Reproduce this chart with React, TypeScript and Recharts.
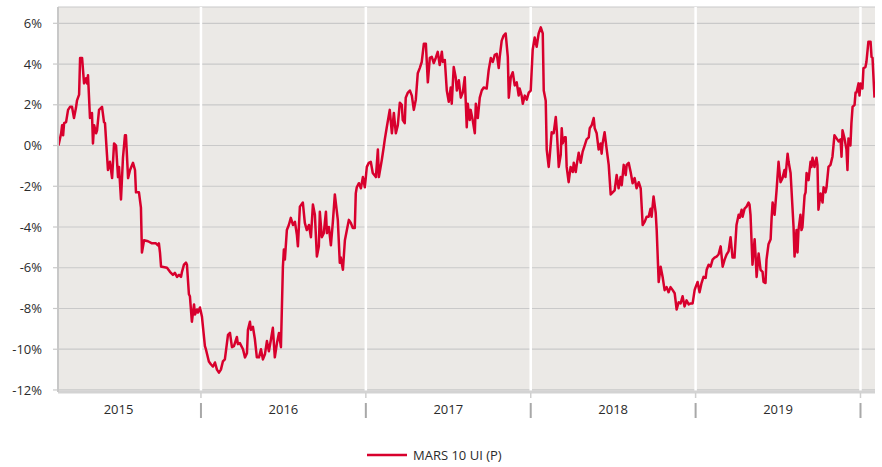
import React from 'react';
import { LineChart, Line, XAxis, YAxis, CartesianGrid, ReferenceLine, Legend } from 'recharts';

const SERIES_NAME = 'MARS 10 UI (P)';
const RED = '#d8002d';

const dates2015 = [
  2015.136, 2015.152, 2015.158, 2015.164, 2015.170, 2015.182, 2015.194, 2015.206, 2015.218, 2015.230,
  2015.242, 2015.248, 2015.261, 2015.267, 2015.279, 2015.291, 2015.303, 2015.309, 2015.315, 2015.327,
  2015.339, 2015.345, 2015.352, 2015.364, 2015.370, 2015.382, 2015.400, 2015.412, 2015.418, 2015.430,
  2015.436, 2015.448, 2015.461, 2015.473, 2015.485, 2015.497, 2015.503, 2015.515, 2015.527, 2015.539,
  2015.545, 2015.558, 2015.570, 2015.588, 2015.600, 2015.606, 2015.624, 2015.636, 2015.642, 2015.655,
  2015.679, 2015.703, 2015.727, 2015.739, 2015.745, 2015.752, 2015.758, 2015.764, 2015.794, 2015.812,
  2015.830, 2015.842, 2015.855, 2015.867, 2015.879, 2015.885, 2015.897, 2015.909, 2015.915, 2015.927,
  2015.933, 2015.945, 2015.958, 2015.964, 2015.976, 2015.982, 2015.994,
];
const values2015 = [
  0.0, 0.6, 1.0, 0.5, 1.1, 1.15, 1.75, 1.9, 1.9, 1.35,
  1.85, 2.2, 2.5, 4.3, 4.3, 3.05, 3.3, 3.05, 3.45, 1.35,
  1.6, 0.1, 1.0, 0.6, 0.75, 1.75, 1.9, 1.15, 1.1, -0.45,
  -1.2, -0.8, -1.6, 0.1, 0.0, -1.55, -1.05, -2.65, -0.6, 0.5,
  0.5, -1.6, -1.2, -0.85, -1.2, -2.3, -2.3, -3.05, -5.25, -4.65,
  -4.7, -4.8, -4.8, -4.9, -4.8, -5.3, -5.95, -5.95, -6.0, -6.2,
  -6.35, -6.25, -6.45, -6.35, -6.45, -6.2, -5.85, -5.75, -5.85, -7.3,
  -7.4, -8.65, -7.8, -8.3, -8.05, -8.2, -7.95,
];

const dates2016 = [
  2016.006, 2016.024, 2016.030, 2016.048, 2016.061, 2016.073, 2016.085, 2016.097, 2016.109, 2016.121,
  2016.133, 2016.145, 2016.164, 2016.176, 2016.188, 2016.200, 2016.218, 2016.224, 2016.236, 2016.255,
  2016.267, 2016.279, 2016.285, 2016.297, 2016.303, 2016.315, 2016.327, 2016.339, 2016.352, 2016.364,
  2016.376, 2016.388, 2016.400, 2016.412, 2016.424, 2016.436, 2016.448, 2016.461, 2016.473, 2016.485,
  2016.497, 2016.503, 2016.509, 2016.521, 2016.533, 2016.545, 2016.558, 2016.570, 2016.582, 2016.588,
  2016.600, 2016.618, 2016.630, 2016.642, 2016.655, 2016.667, 2016.679, 2016.691, 2016.703, 2016.715,
  2016.721, 2016.733, 2016.745, 2016.758, 2016.764, 2016.776, 2016.788, 2016.800, 2016.812, 2016.830,
  2016.842, 2016.848, 2016.861, 2016.873, 2016.885, 2016.897, 2016.909, 2016.921, 2016.933, 2016.939,
  2016.945, 2016.958, 2016.970, 2016.982, 2016.994,
];
const values2016 = [
  -8.4, -9.85, -10.0, -10.6, -10.75, -10.85, -10.65, -11.0, -11.15, -11.0,
  -10.6, -10.5, -9.3, -9.2, -9.9, -9.85, -9.4, -9.75, -9.7, -10.0,
  -10.4, -10.2, -9.05, -8.65, -9.05, -8.9, -9.5, -10.4, -10.4, -10.0,
  -10.5, -10.25, -9.6, -10.1, -9.55, -8.95, -10.4, -9.7, -9.2, -9.9,
  -5.95, -5.1, -5.6, -4.15, -3.9, -3.55, -3.9, -3.75, -4.4, -4.95,
  -3.0, -2.8, -3.8, -4.15, -3.9, -4.5, -2.9, -3.4, -5.45, -4.95,
  -3.25, -4.5, -4.3, -3.25, -4.3, -4.0, -4.9, -3.75, -2.4, -3.65,
  -5.75, -5.5, -6.1, -4.65, -4.15, -3.65, -3.8, -4.05, -4.05, -2.35,
  -2.05, -1.85, -2.1, -1.55, -2.05,
];

const dates2017 = [
  2017.006, 2017.018, 2017.030, 2017.042, 2017.061, 2017.073, 2017.079, 2017.097, 2017.109, 2017.115,
  2017.127, 2017.145, 2017.158, 2017.170, 2017.182, 2017.194, 2017.206, 2017.218, 2017.224, 2017.236,
  2017.242, 2017.255, 2017.267, 2017.279, 2017.291, 2017.303, 2017.315, 2017.327, 2017.339, 2017.352,
  2017.364, 2017.376, 2017.388, 2017.400, 2017.412, 2017.424, 2017.436, 2017.448, 2017.461, 2017.467,
  2017.479, 2017.491, 2017.503, 2017.515, 2017.521, 2017.533, 2017.545, 2017.552, 2017.564, 2017.576,
  2017.588, 2017.600, 2017.612, 2017.618, 2017.630, 2017.636, 2017.648, 2017.661, 2017.667, 2017.679,
  2017.691, 2017.703, 2017.715, 2017.733, 2017.745, 2017.758, 2017.770, 2017.782, 2017.794, 2017.806,
  2017.812, 2017.824, 2017.836, 2017.848, 2017.861, 2017.867, 2017.879, 2017.891, 2017.903, 2017.915,
  2017.927, 2017.933, 2017.945, 2017.952, 2017.964, 2017.976, 2017.988,
];
const values2017 = [
  -1.05, -0.85, -0.8, -1.35, -1.55, -0.2, -1.55, -0.7, -0.05, 0.3,
  0.9, 1.75, 0.6, 1.6, 0.6, 1.0, 2.1, 2.0, 1.25, 1.1,
  2.35, 2.6, 2.7, 2.45, 1.75, 2.25, 3.55, 3.8, 4.1, 5.0,
  5.0, 3.1, 4.3, 4.35, 4.05, 4.3, 4.6, 3.95, 4.6, 4.1,
  4.2, 2.7, 2.15, 2.85, 2.05, 3.85, 3.35, 2.7, 3.2, 2.35,
  2.6, 3.35, 0.9, 2.05, 1.25, 1.75, 1.25, 0.6, 2.05, 1.35,
  2.35, 2.7, 2.85, 2.8, 3.7, 4.3, 4.1, 4.45, 4.5, 3.8,
  4.35, 5.15, 5.4, 5.5, 4.35, 2.35, 3.35, 3.6, 2.95, 3.1,
  2.45, 2.8, 2.45, 2.05, 2.45, 2.25, 2.6,
];

const dates2018 = [
  2018.000, 2018.012, 2018.024, 2018.036, 2018.048, 2018.061, 2018.073, 2018.079, 2018.091, 2018.097,
  2018.109, 2018.115, 2018.127, 2018.139, 2018.152, 2018.158, 2018.170, 2018.182, 2018.188, 2018.194,
  2018.206, 2018.212, 2018.218, 2018.230, 2018.242, 2018.255, 2018.261, 2018.273, 2018.279, 2018.291,
  2018.303, 2018.315, 2018.327, 2018.339, 2018.352, 2018.358, 2018.370, 2018.382, 2018.388, 2018.400,
  2018.412, 2018.424, 2018.430, 2018.436, 2018.448, 2018.461, 2018.473, 2018.485, 2018.497, 2018.509,
  2018.521, 2018.533, 2018.545, 2018.552, 2018.564, 2018.576, 2018.582, 2018.594, 2018.606, 2018.618,
  2018.630, 2018.642, 2018.655, 2018.667, 2018.679, 2018.691, 2018.703, 2018.715, 2018.727, 2018.733,
  2018.745, 2018.758, 2018.764, 2018.776, 2018.788, 2018.800, 2018.812, 2018.824, 2018.836, 2018.848,
  2018.861, 2018.873, 2018.885, 2018.897, 2018.909, 2018.921, 2018.933, 2018.945, 2018.958, 2018.970,
  2018.982, 2018.994,
];
const values2018 = [
  2.7, 4.7, 5.3, 4.85, 5.5, 5.8, 5.5, 2.7, 2.2, -0.2,
  -1.05, -0.55, 0.65, 0.6, 1.4, 0.75, -1.05, -0.45, 0.85, 0.1,
  0.4, 0.4, -1.05, -1.8, -1.05, -1.3, -0.85, -1.3, -0.95, -0.35,
  -0.85, -0.3, 0.0, 0.3, 0.4, 0.85, 1.0, 1.35, 0.85, 0.6,
  -0.2, 0.1, -0.4, 0.1, 0.65, -0.2, -0.95, -2.4, -2.3, -2.2,
  -1.45, -2.1, -1.55, -1.95, -0.95, -1.45, -0.95, -0.85, -1.3, -1.85,
  -1.6, -2.1, -1.8, -2.1, -3.9, -3.75, -3.5, -3.5, -3.1, -3.5,
  -2.5, -3.3, -4.15, -6.7, -5.95, -6.45, -7.1, -6.95, -7.2, -6.95,
  -7.1, -7.25, -8.05, -7.7, -7.75, -7.4, -7.9, -7.6, -7.8, -7.75,
  -7.75, -7.1,
];

const dates2019 = [
  2019.000, 2019.012, 2019.024, 2019.036, 2019.048, 2019.061, 2019.067, 2019.079, 2019.091, 2019.103,
  2019.115, 2019.127, 2019.139, 2019.152, 2019.164, 2019.176, 2019.188, 2019.200, 2019.212, 2019.224,
  2019.236, 2019.248, 2019.261, 2019.267, 2019.279, 2019.285, 2019.297, 2019.309, 2019.321, 2019.327,
  2019.333, 2019.345, 2019.358, 2019.364, 2019.370, 2019.382, 2019.394, 2019.406, 2019.412, 2019.424,
  2019.430, 2019.442, 2019.455, 2019.461, 2019.467, 2019.479, 2019.491, 2019.503, 2019.515, 2019.527,
  2019.539, 2019.545, 2019.558, 2019.564, 2019.576, 2019.594, 2019.600, 2019.612, 2019.618, 2019.624,
  2019.636, 2019.642, 2019.648, 2019.661, 2019.667, 2019.673, 2019.685, 2019.697, 2019.703, 2019.709,
  2019.721, 2019.733, 2019.739, 2019.745, 2019.758, 2019.770, 2019.776, 2019.788, 2019.794, 2019.806,
  2019.818, 2019.830, 2019.842, 2019.855, 2019.867, 2019.879, 2019.885, 2019.891, 2019.903, 2019.915,
  2019.921, 2019.927, 2019.939, 2019.945, 2019.952, 2019.964, 2019.970, 2019.976, 2019.988, 2019.994,
];
const values2019 = [
  -6.95, -6.7, -7.2, -6.75, -6.45, -6.5, -6.1, -5.85, -5.95, -5.6,
  -5.5, -5.45, -5.35, -4.95, -5.95, -5.6, -5.35, -5.2, -4.5, -5.5,
  -5.5, -3.9, -3.4, -3.55, -3.15, -3.5, -3.1, -3.0, -2.8, -2.9,
  -3.4, -5.85, -4.6, -5.45, -6.45, -5.3, -6.1, -6.2, -6.7, -6.75,
  -5.6, -4.85, -4.6, -3.55, -2.8, -3.4, -2.2, -0.8, -1.8, -1.6,
  -1.2, -1.55, -0.4, -0.8, -1.35, -4.0, -5.45, -4.15, -5.25, -4.15,
  -3.4, -4.15, -4.0, -2.45, -2.3, -1.35, -1.7, -0.8, -1.05, -0.6,
  -1.05, -0.6, -0.95, -3.15, -2.35, -2.8, -2.05, -2.3, -2.05, -1.05,
  -0.95, -0.55, 0.5, 0.35, 0.2, 0.3, -0.55, 0.75, 0.35, -0.2,
  -1.2, 0.35, 0.0, 1.1, 1.9, 2.0, 2.6, 2.6, 3.05, 2.45,
];

const dates2020 = [2020.000, 2020.012, 2020.018, 2020.030, 2020.036, 2020.048, 2020.061, 2020.067, 2020.073, 2020.085];
const values2020 = [3.05, 2.8, 3.8, 3.85, 4.1, 5.1, 5.1, 4.35, 4.3, 2.35];

const yearBoundaries = [2016, 2017, 2018, 2019, 2020];
const yearLabels = ['2015', '2016', '2017', '2018', '2019'];
const yTicks = [-12, -10, -8, -6, -4, -2, 0, 2, 4, 6];
const xDomain = [2015.133, 2020.088];
const yDomain = [-12.1, 6.8];

const dates = [...dates2015, ...dates2016, ...dates2017, ...dates2018, ...dates2019, ...dates2020];
const values = [...values2015, ...values2016, ...values2017, ...values2018, ...values2019, ...values2020];
const data = dates.map((t, i) => ({ t, v: values[i] }));

const xTicks = [...yearBoundaries, ...yearLabels.map((l) => Number(l) + 0.5)].sort((a, b) => a - b);

const XTick = (props: any) => {
  const { x, y, payload } = props;
  const v = payload.value as number;
  if (Number.isInteger(v)) {
    return (
      <g>
        <line x1={x} x2={x} y1={y + 1} y2={y + 6} stroke="#cfcfcf" strokeWidth={1.5} />
        <line x1={x} x2={x} y1={y + 11} y2={y + 26} stroke="#a8a8a8" strokeWidth={2} />
      </g>
    );
  }
  return (
    <text x={x} y={y + 22} textAnchor="middle" fill="#2b2b2b" fontSize={13}>
      {String(Math.floor(v))}
    </text>
  );
};

const renderLegend = (props: any) => {
  const item = props.payload && props.payload[0];
  return (
    <svg width={882} height={22} style={{ display: 'block', overflow: 'visible' }}>
      <line x1={367} x2={407} y1={10} y2={10} stroke={RED} strokeWidth={2.5} />
      <text x={413} y={15} fontSize={13} fill="#2b2b2b">
        {item ? item.value : SERIES_NAME}
      </text>
    </svg>
  );
};

export default function App() {
  return (
    <div style={{ position: 'absolute', left: 0, top: 0, fontFamily: "'Open Sans', sans-serif" }}>
      <LineChart width={882} height={467} data={data} margin={{ top: 7, right: 7, bottom: 45, left: 0 }}>
        <CartesianGrid vertical={false} stroke="#c9c9c9" strokeWidth={1.2} fill="#ebe9e6" />
        <XAxis
          dataKey="t"
          type="number"
          domain={xDomain}
          allowDataOverflow
          ticks={xTicks}
          interval={0}
          tick={<XTick />}
          tickLine={false}
          tickSize={0}
          tickMargin={0}
          height={30}
          axisLine={{ stroke: '#d3d3d3', strokeWidth: 3 }}
        />
        <YAxis
          type="number"
          domain={yDomain}
          allowDataOverflow
          ticks={yTicks}
          interval={0}
          width={58}
          tickFormatter={(v: number) => `${v}%`}
          tick={{ fill: '#2b2b2b', fontSize: 13 }}
          tickSize={5}
          tickMargin={11}
          tickLine={{ stroke: '#c9c9c9', strokeWidth: 1.2 }}
          axisLine={{ stroke: '#c8c8c8', strokeWidth: 2 }}
        />
        {yearBoundaries.map((yb) => (
          <ReferenceLine key={yb} x={yb} stroke="#ffffff" strokeWidth={2.5} />
        ))}
        <Line
          type="linear"
          dataKey="v"
          name={SERIES_NAME}
          stroke={RED}
          strokeWidth={2.5}
          strokeLinejoin="round"
          dot={false}
          activeDot={false}
          isAnimationActive={false}
        />
        <Legend
          verticalAlign="bottom"
          content={renderLegend}
          wrapperStyle={{ position: 'absolute', left: 0, top: 445, width: 882, height: 0, margin: 0, padding: 0 }}
        />
      </LineChart>
    </div>
  );
}
